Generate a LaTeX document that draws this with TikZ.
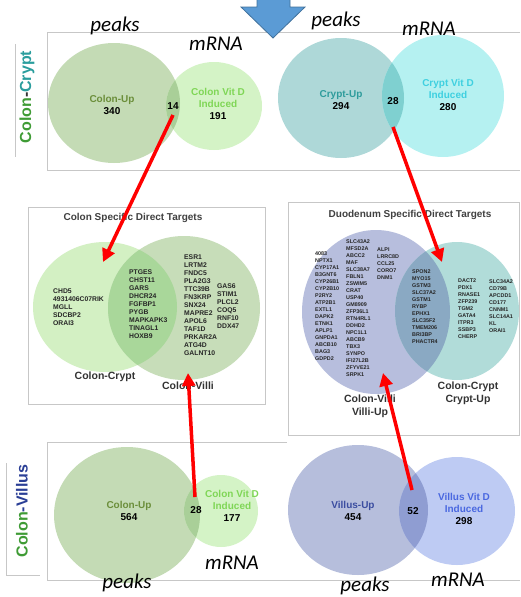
\documentclass[tikz,border=0pt]{standalone}
\usepackage{fontspec}
\setmainfont{Liberation Sans}
\newfontfamily\calib{Carlito}
\usetikzlibrary{arrows.meta,positioning}

% fills of the Venn discs
\definecolor{colonUp}{HTML}{C4DBB5}
\definecolor{colonVD}{HTML}{D4F3C6}
\definecolor{colonOv}{HTML}{A9CF98}
\definecolor{cryptUp}{HTML}{AED8D8}
\definecolor{cryptVD}{HTML}{B5F1F1}
\definecolor{cryptOv}{HTML}{7FD0D0}
\definecolor{midCrypt}{HTML}{D3F0C3}
\definecolor{midVilli}{HTML}{C7DDB9}
\definecolor{midOv}{HTML}{A9D79A}
\definecolor{duoVilli}{HTML}{B7BEDD}
\definecolor{duoCrypt}{HTML}{B1DCD9}
\definecolor{duoOv}{HTML}{8AA9C3}
\definecolor{villUp}{HTML}{B6BEDC}
\definecolor{villVD}{HTML}{BECBF3}
\definecolor{villOv}{HTML}{8F9DD2}
% text colours
\definecolor{txtColonUp}{HTML}{6B8E3A}
\definecolor{txtColonVD}{HTML}{7FD656}
\definecolor{txtCryptUp}{HTML}{2E9C9C}
\definecolor{txtCryptVD}{HTML}{3FD0E0}
\definecolor{txtVillUp}{HTML}{3B4DA0}
\definecolor{txtVillVD}{HTML}{4A68E0}
\definecolor{sideGreen}{HTML}{3F9B35}
\definecolor{sideTeal}{HTML}{2A9D9D}
\definecolor{sideBlue}{HTML}{2B3F96}
\definecolor{arrowBlue}{HTML}{5B9BD5}
\definecolor{arrowEdge}{HTML}{41719C}

\tikzset{
  vennlbl/.style={font=\bfseries\fontsize{10}{12}\selectfont, align=center, inner sep=0pt},
  cnt/.style={font=\bfseries\fontsize{10}{11}\selectfont, inner sep=0pt},
  axislbl/.style={font=\calib\itshape\fontsize{21}{24}\selectfont, inner sep=0pt},
  genes/.style={font=\bfseries\fontsize{6.8}{8}\selectfont, align=left, anchor=west, inner sep=0pt, text=black!85},
  dgenes/.style={font=\bfseries\fontsize{5.4}{7}\selectfont, align=left, anchor=west, inner sep=0pt, text=black!85},
  panel/.style={draw=black!22, line width=0.7pt},
  redarrow/.style={draw=red, line width=3.5pt, -{Triangle[length=13pt,width=13pt]}},
  grouplbl/.style={font=\bfseries\fontsize{10.5}{13}\selectfont, text=black!80, align=center, inner sep=0pt},
  paneltitle/.style={font=\bfseries\fontsize{10}{11}\selectfont, text=black!75, inner sep=0pt},
  sidelbl/.style={font=\bfseries\fontsize{16}{18}\selectfont, rotate=90, inner sep=0pt},
}

\begin{document}
\begin{tikzpicture}[x=1pt,y=-1pt]
\useasboundingbox (0,0) rectangle (520,597);

% Panel frames
\draw[panel] (520,32) -- (47,32) -- (47,170) -- (520,170);
\draw[panel] (287,442) -- (47,442) -- (47,580) -- (520,580);
\draw[panel] (15,44) -- (15,157);
\draw[panel] (6,463) -- (6,575) -- (40,575);
\filldraw[panel,fill=white] (28,207) rectangle (265,404);
\filldraw[panel,fill=white] (288,202) rectangle (519,435);

% Side labels
\node[sidelbl] (sideCrypt) at (27,97) {\textcolor{sideGreen}{Colon}\textcolor{black!80}{-}\textcolor{sideTeal}{Crypt}};
\node[sidelbl] (sideVillus) at (22,511) {\textcolor{sideGreen}{Colon}\textcolor{sideBlue}{-Villus}};

% Top left: colon crypt peaks vs mRNA
\fill[colonUp] (114,103) ellipse [x radius=66, y radius=60];
\fill[colonVD] (214,106) ellipse [x radius=48, y radius=44];
\begin{scope}
  \clip (114,103) ellipse [x radius=66, y radius=60];
  \fill[colonOv] (214,106) ellipse [x radius=48, y radius=44];
\end{scope}
\node[vennlbl] (colonUpA) at (112,105) {\textcolor{txtColonUp}{Colon-Up}\\340};
\node[vennlbl] (colonVDA) at (218,104) {\textcolor{txtColonVD}{Colon Vit D}\\\textcolor{txtColonVD}{Induced}\\191};
\node[cnt] (ovA) at (173,106) {14};
\node[axislbl] (peaksA) at (115,26) {peaks};
\node[axislbl] (mrnaA) at (216,44) {mRNA};

% Top right: crypt peaks vs mRNA
\fill[cryptUp] (341,98) ellipse [x radius=63, y radius=60];
\fill[cryptVD] (443,96) ellipse [x radius=61, y radius=61];
\begin{scope}
  \clip (341,98) ellipse [x radius=63, y radius=60];
  \fill[cryptOv] (443,96) ellipse [x radius=61, y radius=61];
\end{scope}
\node[vennlbl] (cryptUpB) at (341,100) {\textcolor{txtCryptUp}{Crypt-Up}\\294};
\node[vennlbl] (cryptVDB) at (448,95) {\textcolor{txtCryptVD}{Crypt Vit D}\\\textcolor{txtCryptVD}{Induced}\\280};
\node[cnt] (ovB) at (393,101) {28};
\node[axislbl] (peaksB) at (336,21) {peaks};
\node[axislbl] (mrnaB) at (429,29) {mRNA};

% Blue arrow at the top
\filldraw[fill=arrowBlue,draw=arrowEdge,line width=0.8pt] (257,-2) -- (290,-2) -- (290,7) -- (305,7) -- (273,38) -- (241,7) -- (257,7) -- cycle;

% Middle left: colon specific direct targets
\node[paneltitle] (titleC) at (133,218) {Colon Specific Direct Targets};
\fill[midCrypt] (105,307) ellipse [x radius=72, y radius=65];
\fill[midVilli] (184,308) ellipse [x radius=76, y radius=72];
\begin{scope}
  \clip (105,307) ellipse [x radius=72, y radius=65];
  \fill[midOv] (184,308) ellipse [x radius=76, y radius=72];
\end{scope}
\node[genes] (gCrypt) at (53,307) {CHD5\\4931406C07RIK\\MGLL\\SDCBP2\\ORAI3};
\node[genes] (gBoth) at (129,304.5) {PTGES\\CHST11\\GARS\\DHCR24\\FGFBP1\\PYGB\\MAPKAPK3\\TINAGL1\\HOXB9};
\node[genes] (gVilliA) at (184,305) {ESR1\\LRTM2\\FNDC5\\PLA2G3\\TTC39B\\FN3KRP\\SNX24\\MAPRE2\\APOL6\\TAF1D\\PRKAR2A\\ATG4D\\GALNT10};
\node[genes] (gVilliB) at (217,306) {GAS6\\STIM1\\PLCL2\\COQ5\\RNF10\\DDX47};
\node[grouplbl] (lblCrypt) at (105,377) {Colon-Crypt};
\node[grouplbl] (lblVilli) at (188,386) {Colon-Villi};

% Middle right: duodenum specific direct targets
\node[paneltitle] (titleD) at (410,215) {Duodenum Specific Direct Targets};
\fill[duoVilli] (376,312) ellipse [x radius=74, y radius=82];
\fill[duoCrypt] (457,311) ellipse [x radius=62, y radius=69];
\begin{scope}
  \clip (376,312) ellipse [x radius=74, y radius=82];
  \fill[duoOv] (457,311) ellipse [x radius=62, y radius=69];
\end{scope}
\node[dgenes] (dVilliA) at (315,306.5) {4083\\NPTX1\\CYP17A1\\B3GNT6\\CYP26B1\\CYP2B10\\P2RY2\\ATP2B1\\EXTL1\\DAPK2\\ETNK1\\APLP1\\GNPDA1\\ABCB10\\BAG3\\GDPD2};
\node[dgenes] (dVilliB) at (346,308) {SLC43A2\\MFSD2A\\ABCC2\\MAF\\SLC38A7\\FBLN1\\ZSWIM5\\CRAT\\USP40\\GM8909\\ZFP36L1\\RTN4RL1\\DDHD2\\NPC1L1\\ABCB9\\TBX3\\SYNPO\\IFI27L2B\\ZFYVE21\\SRPK1};
\node[dgenes] (dVilliC) at (377,263.5) {ALPI\\LRRC8D\\CCL25\\CORO7\\DNM1};
\node[dgenes] (dBoth) at (412,307) {SPON2\\MYO15\\GSTM3\\SLC37A2\\GSTM1\\RYBP\\EPHX1\\SLC35F2\\TMEM206\\BRI3BP\\PHACTR4};
\node[dgenes] (dCryptA) at (458,309) {DACT2\\PDX1\\RNASE1\\ZFP239\\TGM2\\GATA4\\ITPR3\\SSBP3\\CHERP};
\node[dgenes] (dCryptB) at (489,306.5) {SLC34A2\\CD79B\\APCDD1\\CD177\\CNNM1\\SLC14A1\\KL\\ORAI1};
\node[grouplbl] (lblDVilli) at (370,406.5) {Colon-Villi\\Villi-Up};
\node[grouplbl] (lblDCrypt) at (468,393.5) {Colon-Crypt\\Crypt-Up};

% Bottom left: colon villus peaks vs mRNA
\fill[colonUp] (127,515) ellipse [x radius=73, y radius=68];
\fill[colonVD] (221,511) ellipse [x radius=37, y radius=36];
\begin{scope}
  \clip (127,515) ellipse [x radius=73, y radius=68];
  \fill[colonOv] (221,511) ellipse [x radius=37, y radius=36];
\end{scope}
\node[vennlbl] (colonUpC) at (129,511) {\textcolor{txtColonUp}{Colon-Up}\\564};
\node[vennlbl] (colonVDC) at (232,506) {\textcolor{txtColonVD}{Colon Vit D}\\\textcolor{txtColonVD}{Induced}\\177};
\node[cnt] (ovC) at (196,510) {28};
\node[axislbl] (peaksC) at (127,583) {peaks};
\node[axislbl] (mrnaC) at (232,563) {mRNA};

% Bottom right: villus peaks vs mRNA
\fill[villUp] (358,510) ellipse [x radius=70, y radius=65];
\fill[villVD] (457,511) ellipse [x radius=58, y radius=54];
\begin{scope}
  \clip (358,510) ellipse [x radius=70, y radius=65];
  \fill[villOv] (457,511) ellipse [x radius=58, y radius=54];
\end{scope}
\node[vennlbl] (villUpD) at (353,511) {\textcolor{txtVillUp}{Villus-Up}\\454};
\node[vennlbl] (villVDD) at (464,509) {\textcolor{txtVillVD}{Villus Vit D}\\\textcolor{txtVillVD}{Induced}\\298};
\node[cnt] (ovD) at (413,511) {52};
\node[axislbl] (peaksD) at (365,586) {peaks};
\node[axislbl] (mrnaD) at (458,580) {mRNA};

% Red arrows from the overlaps to the target panels
\coordinate (fromA) at (173,115);
\coordinate (toA) at (103,262);
\coordinate (fromB) at (393,127);
\coordinate (toB) at (442,262);
\coordinate (fromC) at (195,497);
\coordinate (toC) at (188,373);
\coordinate (fromD) at (412,490);
\coordinate (toD) at (383,373);
\draw[redarrow] (fromA) -- (toA);
\draw[redarrow] (fromB) -- (toB);
\draw[redarrow] (fromC) -- (toC);
\draw[redarrow] (fromD) -- (toD);
\end{tikzpicture}
\end{document}
